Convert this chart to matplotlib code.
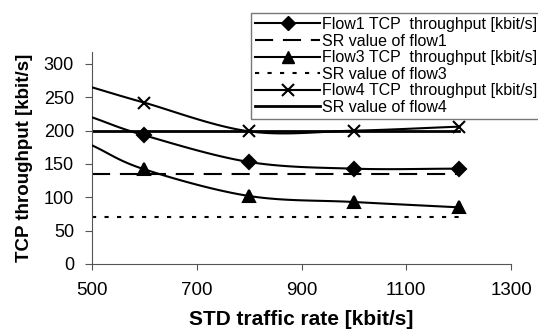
import numpy as np
import matplotlib
matplotlib.use("Agg")
import matplotlib.pyplot as plt

plt.rcParams['font.family'] = ['Liberation Sans', 'DejaVu Sans']

rate = [500, 600, 800, 1000, 1200]
flow1 = [220, 193, 153, 143, 143]
flow3 = [178, 142, 102, 93, 85]
flow4 = [265, 242, 199, 200, 206]
sr_x = [500, 1200]
sr1 = [135, 135]
sr3 = [70, 70]
sr4 = [200, 200]
xticks = [500, 700, 900, 1100, 1300]
yticks = [0, 50, 100, 150, 200, 250, 300]


def smooth(x, y, n=30):
    x = np.asarray(x, float)
    y = np.asarray(y, float)
    px = np.concatenate([[2 * x[0] - x[1]], x, [2 * x[-1] - x[-2]]])
    py = np.concatenate([[2 * y[0] - y[1]], y, [2 * y[-1] - y[-2]]])
    ox, oy = [], []
    t = np.linspace(0, 1, n)
    for i in range(1, len(px) - 2):
        p0, p1, p2, p3 = [np.array([px[j], py[j]]) for j in range(i - 1, i + 3)]
        b1 = p1 + (p2 - p0) / 6
        b2 = p2 - (p3 - p1) / 6
        pts = ((1 - t) ** 3)[:, None] * p1 + (3 * (1 - t) ** 2 * t)[:, None] * b1 \
            + (3 * (1 - t) * t ** 2)[:, None] * b2 + (t ** 3)[:, None] * p2
        ox.extend(pts[:, 0])
        oy.extend(pts[:, 1])
    return ox, oy


fig = plt.figure(figsize=(5.38, 3.36), dpi=100)
ax = fig.add_axes([92 / 538, 1 - 264 / 336, (511 - 92) / 538, (264 - 52) / 336])

for ys, mk, ms in [(flow1, 'D', 7), (flow3, '^', 8.5), (flow4, 'x', 9)]:
    sx, sy = smooth(rate, ys)
    ax.plot(sx, sy, color='black', lw=1.5, zorder=3)
    ax.plot(rate[1:], ys[1:], linestyle='none', marker=mk, ms=ms, color='black',
            mew=1.5, zorder=4)

h1 = ax.plot([], [], color='black', lw=1.5, marker='D', ms=7)[0]
h3 = ax.plot([], [], color='black', lw=1.5, marker='^', ms=8.5)[0]
h4 = ax.plot([], [], color='black', lw=1.5, marker='x', ms=9, mew=1.5)[0]
s1 = ax.plot(sr_x, sr1, color='black', lw=1.5, linestyle=(0, (8.7, 4.7)))[0]
s3 = ax.plot(sr_x, sr3, color='black', lw=1.5, linestyle=(0, (2, 4)))[0]
s4 = ax.plot(sr_x, sr4, color='black', lw=2)[0]

ax.set_xlim(500, 1300)
ax.set_ylim(0, 318)
ax.set_xticks(xticks)
ax.set_yticks(yticks)
ax.tick_params(axis='x', labelsize=13.5, direction='out', length=4, pad=9, color='#555555')
ax.tick_params(axis='y', labelsize=13, direction='out', length=5, pad=8, color='#555555')
ax.spines['top'].set_visible(False)
ax.spines['right'].set_visible(False)
ax.spines['left'].set_color('#555555')
ax.spines['bottom'].set_color('#555555')
ax.set_xlabel('STD traffic rate [kbit/s]', fontsize=15, fontweight='bold', labelpad=8)
ax.set_ylabel('TCP throughput [kbit/s]', fontsize=13.5, fontweight='bold', labelpad=8)

leg = fig.legend([h1, s1, h3, s3, h4, s4],
                 ['Flow1 TCP  throughput [kbit/s]', 'SR value of flow1',
                  'Flow3 TCP  throughput [kbit/s]', 'SR value of flow3',
                  'Flow4 TCP  throughput [kbit/s]', 'SR value of flow4'],
                 loc='upper left', bbox_to_anchor=(251 / 538, 1 - 13 / 336),
                 fontsize=11.5, frameon=True, fancybox=False, edgecolor='#555555',
                 handlelength=4.1, handletextpad=0.08, labelspacing=0.1,
                 borderpad=0.25, borderaxespad=0)
leg.get_frame().set_linewidth(1)
leg.set_zorder(10)

fig.savefig('out.png', dpi=100)
